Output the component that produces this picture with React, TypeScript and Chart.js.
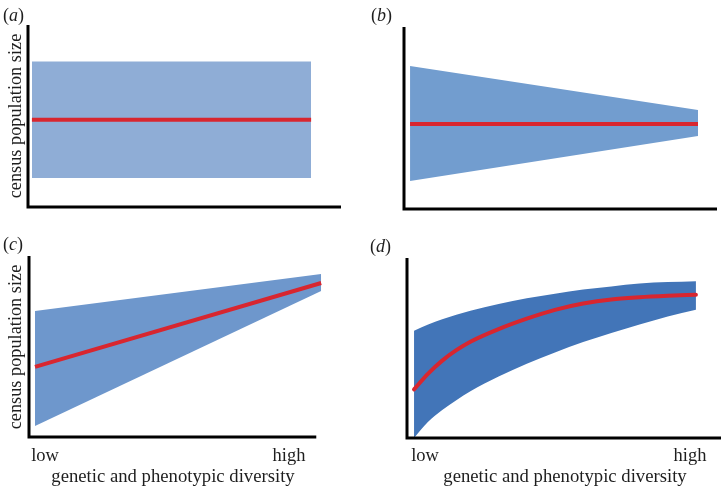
import React, { useEffect, useRef } from "react";
import { Chart, registerables } from "chart.js";

Chart.register(...registerables);

// ---------- Data (x: low = 0 … high = 10, y: census population size 0 … 10) ----------
// Panel (a): constant mean, constant spread
const aX = [0, 10];
const aUpper = [8.0, 8.0];
const aLower = [1.6, 1.6];
const aMean = [4.8, 4.8];

// Panel (b): constant mean, spread shrinking with diversity
const bX = [0, 10];
const bUpper = [7.86, 5.44];
const bLower = [1.54, 4.01];
const bMean = [4.67, 4.67];

// Panel (c): mean rising linearly, spread shrinking
const cX = [0, 10];
const cUpper = [6.96, 9.0];
const cLower = [0.61, 8.07];
const cMean = [3.87, 8.51];

// Panel (d): saturating mean, spread shrinking
const dX = [0, 0.5, 1, 1.5, 2, 3, 4, 5, 6, 7, 8, 9, 10];
const dUpper = [5.96, 6.3, 6.6, 6.85, 7.07, 7.45, 7.76, 8.02, 8.25, 8.42, 8.58, 8.66, 8.71];
const dLower = [0.0, 0.9, 1.55, 2.1, 2.6, 3.42, 4.13, 4.75, 5.33, 5.83, 6.3, 6.75, 7.13];
const dMean = [2.7, 3.58, 4.3, 4.88, 5.35, 6.05, 6.63, 7.12, 7.47, 7.7, 7.82, 7.9, 7.96];

const panelLabels = ["a", "b", "c", "d"];
const yAxisLabel = "census population size";
const xAxisLabel = "genetic and phenotypic diversity";
const xTickLabels = ["low", "high"];

const RED = "#d8262f";
const FONT = "'Liberation Serif', 'Times New Roman', serif";

type Panel = {
  left: number;
  top: number;
  padding: { left: number; top: number; right: number; bottom: number };
  xMin: number;
  xMax: number;
  axisEnd: number;
  xs: number[];
  upper: number[];
  lower: number[];
  mean: number[];
  color: string;
  curved: boolean;
};

const pts = (xs: number[], ys: number[]) => xs.map((x, i) => ({ x, y: ys[i] }));

const panels: Panel[] = [
  {
    left: 0, top: 0,
    padding: { left: 28, top: 25, right: 21, bottom: 36 },
    xMin: -0.14, xMax: 11.07, axisEnd: 11.07,
    xs: aX, upper: aUpper, lower: aLower, mean: aMean,
    color: "#8fadd6", curved: false,
  },
  {
    left: 362, top: 0,
    padding: { left: 42, top: 27, right: 7, bottom: 34 },
    xMin: -0.21, xMax: 10.66, axisEnd: 10.66,
    xs: bX, upper: bUpper, lower: bLower, mean: bMean,
    color: "#729dcf", curved: false,
  },
  {
    left: 0, top: 243,
    padding: { left: 29, top: 13, right: 38, bottom: 49 },
    xMin: -0.21, xMax: 10.1, axisEnd: 9.83,
    xs: cX, upper: cUpper, lower: cLower, mean: cMean,
    color: "#6e97cc", curved: false,
  },
  {
    left: 362, top: 243,
    padding: { left: 45, top: 15, right: 3, bottom: 48 },
    xMin: -0.25, xMax: 10.89, axisEnd: 10.89,
    xs: dX, upper: dUpper, lower: dLower, mean: dMean,
    color: "#4275b8", curved: true,
  },
];

// L-shaped axes drawn from the chart's own scales
const lAxes = {
  id: "lAxes",
  afterDatasetsDraw(chart: any, _args: any, opts: any) {
    const { ctx } = chart;
    const xs = chart.scales.x;
    const ys = chart.scales.y;
    const x0 = xs.getPixelForValue(opts.xStart);
    const x1 = xs.getPixelForValue(opts.xEnd);
    const y0 = ys.getPixelForValue(0);
    const y1 = ys.getPixelForValue(10);
    ctx.save();
    ctx.strokeStyle = "#000";
    ctx.lineWidth = 3;
    ctx.lineJoin = "miter";
    ctx.lineCap = "butt";
    ctx.beginPath();
    ctx.moveTo(x0, y1);
    ctx.lineTo(x0, y0);
    ctx.lineTo(x1, y0);
    ctx.stroke();
    ctx.restore();
  },
};

function PanelChart({ p }: { p: Panel }) {
  const ref = useRef<HTMLCanvasElement | null>(null);
  useEffect(() => {
    if (!ref.current) return;
    const axis = {
      type: "linear" as const,
      ticks: { display: false },
      grid: { display: false, drawTicks: false },
      border: { display: false },
    };
    const mode = p.curved ? "monotone" : "default";
    const chart = new Chart(ref.current, {
      type: "line",
      data: {
        datasets: [
          {
            data: pts(p.xs, p.mean),
            borderWidth: 4,
            borderColor: RED,
            pointRadius: 0,
            fill: false,
            clip: false,
            borderCapStyle: p.curved ? "round" : "butt",
            cubicInterpolationMode: mode,
          },
          {
            data: pts(p.xs, p.upper),
            borderWidth: 0,
            borderColor: "transparent",
            backgroundColor: p.color,
            pointRadius: 0,
            fill: "+1",
            clip: false,
            cubicInterpolationMode: mode,
          },
          {
            data: pts(p.xs, p.lower),
            borderWidth: 0,
            borderColor: "transparent",
            backgroundColor: p.color,
            pointRadius: 0,
            fill: false,
            clip: false,
            cubicInterpolationMode: mode,
          },
        ],
      },
      options: {
        animation: false,
        responsive: false,
        events: [],
        layout: { padding: p.padding },
        plugins: {
          legend: { display: false },
          tooltip: { enabled: false },
          lAxes: { xStart: p.xMin, xEnd: p.axisEnd },
        },
        scales: {
          x: { ...axis, min: p.xMin, max: p.xMax },
          y: { ...axis, min: 0, max: 10 },
        },
      },
      plugins: [lAxes],
    } as any);
    return () => chart.destroy();
  }, [p]);
  return (
    <canvas
      ref={ref}
      width={362}
      height={243}
      style={{ position: "absolute", left: p.left, top: p.top, width: 362, height: 243 }}
    />
  );
}

const textBase: React.CSSProperties = {
  position: "absolute",
  fontFamily: FONT,
  color: "#1e1e1e",
  whiteSpace: "nowrap",
  lineHeight: 1,
};

function Label({ x, y, size, rotate, children }: { x: number; y: number; size: number; rotate?: boolean; children: React.ReactNode }) {
  return (
    <div
      style={{
        ...textBase,
        left: x,
        top: y,
        fontSize: size,
        transform: `translate(-50%, -50%)${rotate ? " rotate(-90deg)" : ""}`,
      }}
    >
      {children}
    </div>
  );
}

function PanelTag({ x, y, letter }: { x: number; y: number; letter: string }) {
  return (
    <div style={{ ...textBase, left: x, top: y, fontSize: 18 }}>
      (<span style={{ fontStyle: "italic" }}>{letter}</span>)
    </div>
  );
}

export default function App() {
  return (
    <div style={{ position: "fixed", left: 0, top: 0, width: 724, height: 486, background: "#fff", overflow: "hidden" }}>
      {panels.map((p, i) => (
        <PanelChart key={i} p={p} />
      ))}
      <PanelTag x={3} y={6} letter={panelLabels[0]} />
      <PanelTag x={371} y={6} letter={panelLabels[1]} />
      <PanelTag x={3} y={235} letter={panelLabels[2]} />
      <PanelTag x={370} y={237} letter={panelLabels[3]} />

      <Label x={15} y={116} size={18.3} rotate>{yAxisLabel}</Label>
      <Label x={15} y={347} size={18.3} rotate>{yAxisLabel}</Label>

      <Label x={45} y={455} size={18.5}>{xTickLabels[0]}</Label>
      <Label x={289} y={455} size={18.5}>{xTickLabels[1]}</Label>
      <Label x={173} y={476} size={18.7}>{xAxisLabel}</Label>

      <Label x={425} y={455} size={18.5}>{xTickLabels[0]}</Label>
      <Label x={690} y={455} size={18.5}>{xTickLabels[1]}</Label>
      <Label x={565} y={476} size={18.7}>{xAxisLabel}</Label>
    </div>
  );
}
